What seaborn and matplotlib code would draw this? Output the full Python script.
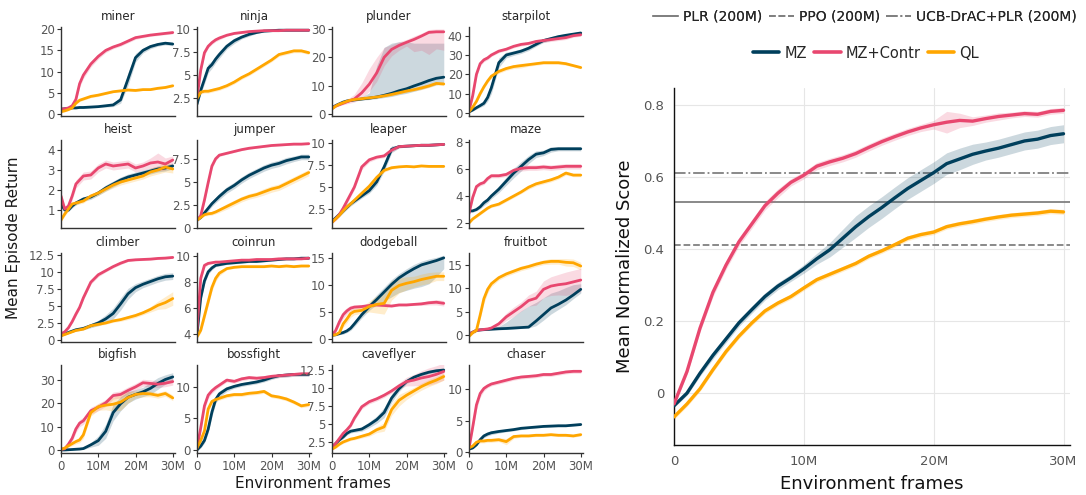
import matplotlib
matplotlib.use("Agg")
import matplotlib.pyplot as plt
import seaborn as sns
from matplotlib.ticker import FuncFormatter, FixedLocator
from matplotlib.lines import Line2D

# ---------------- data ----------------
FRAMES_M = [0, 1, 2, 3, 4, 5, 6, 8, 10, 12, 14, 16, 18, 20, 22, 24, 26, 28, 30]
GAMES = ["miner", "ninja", "plunder", "starpilot",
         "heist", "jumper", "leaper", "maze",
         "climber", "coinrun", "dodgeball", "fruitbot",
         "bigfish", "bossfight", "caveflyer", "chaser"]
METHODS = ["MZ", "MZ+Contr", "QL"]
COLORS = ["#003f5c", "#e8476f", "#ffa600"]

miner_mz = [1.2, 1.3, 1.4, 1.5, 1.5, 1.6, 1.6, 1.7, 1.8, 2.0, 2.2, 3.4, 8.3, 13.3, 15.0, 15.9, 16.4, 16.7, 16.5]
miner_contr = [1.2, 1.3, 1.5, 2.0, 3.5, 7.2, 9.2, 11.8, 13.6, 15.0, 15.8, 16.4, 17.2, 18.0, 18.3, 18.6, 18.8, 19.0, 19.2]
miner_ql = [0.6, 0.8, 1.1, 1.5, 2.6, 3.3, 3.6, 4.2, 4.5, 4.9, 5.3, 5.5, 5.7, 5.6, 5.8, 5.8, 6.1, 6.3, 6.7]
miner_mz_sd = [0.2, 0.2, 0.2, 0.2, 0.2, 0.2, 0.2, 0.2, 0.2, 0.3, 0.4, 0.8, 1.5, 1.0, 0.6, 0.5, 0.4, 0.4, 0.4]
miner_contr_sd = [0.2, 0.2, 0.3, 0.4, 0.6, 0.8, 0.8, 0.7, 0.6, 0.5, 0.4, 0.4, 0.4, 0.4, 0.3, 0.3, 0.3, 0.3, 0.3]
miner_ql_sd = [0.1, 0.1, 0.2, 0.2, 0.3, 0.3, 0.3, 0.3, 0.3, 0.2, 0.2, 0.2, 0.2, 0.2, 0.2, 0.2, 0.2, 0.2, 0.2]

ninja_mz = [1.8, 3.3, 4.5, 5.7, 6.1, 6.7, 7.2, 8.1, 8.7, 9.1, 9.4, 9.6, 9.75, 9.8, 9.85, 9.85, 9.85, 9.85, 9.85]
ninja_contr = [2.5, 5.5, 7.4, 8.1, 8.5, 8.8, 9.0, 9.3, 9.5, 9.6, 9.7, 9.75, 9.8, 9.8, 9.8, 9.85, 9.85, 9.85, 9.85]
ninja_ql = [2.4, 3.1, 3.2, 3.2, 3.3, 3.4, 3.5, 3.8, 4.2, 4.7, 5.1, 5.6, 6.1, 6.6, 7.2, 7.4, 7.6, 7.6, 7.4]
ninja_mz_sd = [0.3, 0.4, 0.5, 0.5, 0.4, 0.4, 0.4, 0.3, 0.3, 0.2, 0.2, 0.1, 0.1, 0.1, 0.1, 0.1, 0.1, 0.1, 0.1]
ninja_contr_sd = [0.3, 0.4, 0.3, 0.2, 0.2, 0.2, 0.2, 0.1, 0.1, 0.1, 0.1, 0.1, 0.1, 0.1, 0.1, 0.1, 0.1, 0.1, 0.1]
ninja_ql_sd = [0.2, 0.2, 0.2, 0.2, 0.2, 0.2, 0.2, 0.2, 0.2, 0.2, 0.2, 0.2, 0.2, 0.2, 0.2, 0.2, 0.2, 0.2, 0.2]

plunder_mz = [2.2, 3.0, 3.6, 4.2, 4.6, 4.8, 5.0, 5.3, 5.6, 6.0, 6.6, 7.3, 8.2, 8.9, 9.9, 10.8, 11.8, 12.6, 13.0]
plunder_contr = [2.0, 2.8, 3.3, 3.8, 4.3, 4.8, 5.3, 7.5, 10.5, 14.5, 20.0, 22.8, 24.2, 25.3, 26.3, 27.5, 28.8, 29.0, 29.0]
plunder_ql = [1.8, 2.8, 3.5, 4.0, 4.5, 4.9, 5.1, 5.4, 5.7, 6.0, 6.4, 6.9, 7.5, 8.1, 8.6, 9.2, 9.9, 10.8, 10.6]
plunder_mz_lo = [1.8, 2.6, 3.2, 3.8, 4.2, 4.4, 4.6, 4.9, 5.1, 5.4, 5.8, 6.2, 6.8, 7.3, 8.0, 8.7, 9.5, 10.3, 10.8]
plunder_mz_hi = [2.6, 3.4, 4.0, 4.6, 5.0, 5.3, 5.5, 6.0, 7.5, 17.0, 23.5, 25.0, 25.5, 25.5, 25.0, 25.0, 25.0, 25.0, 25.0]
plunder_contr_lo = [1.6, 2.4, 2.9, 3.3, 3.6, 3.9, 4.2, 5.5, 8.0, 11.5, 17.0, 20.5, 22.5, 24.0, 22.0, 22.5, 21.0, 23.0, 22.5]
plunder_contr_hi = [2.4, 3.2, 3.8, 4.4, 5.2, 6.0, 7.0, 11.0, 16.0, 20.0, 23.5, 24.5, 25.5, 26.3, 27.5, 28.5, 29.8, 30.0, 30.0]
plunder_ql_sd = [0.3, 0.3, 0.4, 0.4, 0.4, 0.4, 0.4, 0.4, 0.4, 0.4, 0.4, 0.5, 0.5, 0.5, 0.5, 0.6, 0.6, 0.6, 0.6]

starpilot_mz = [0.5, 1.5, 2.7, 3.8, 5.0, 8.0, 13.0, 26.0, 30.0, 31.0, 32.0, 33.5, 35.5, 37.5, 38.5, 39.5, 40.2, 40.8, 41.4]
starpilot_contr = [1.0, 9.0, 20.0, 25.5, 27.5, 28.5, 30.0, 32.0, 33.0, 34.5, 35.5, 36.0, 37.0, 37.5, 38.0, 38.5, 39.0, 40.0, 40.5]
starpilot_ql = [0.5, 3.0, 6.0, 10.0, 13.5, 16.5, 19.0, 21.5, 23.0, 24.0, 24.5, 25.0, 25.5, 26.0, 26.0, 26.0, 25.5, 24.5, 23.5]
starpilot_mz_sd = [0.3, 0.5, 0.7, 0.9, 1.2, 2.0, 3.0, 2.5, 1.5, 1.2, 1.2, 1.2, 1.0, 1.0, 1.0, 1.0, 0.8, 0.8, 0.8]
starpilot_contr_sd = [0.3, 1.5, 1.5, 1.2, 1.0, 1.0, 0.8, 0.8, 0.8, 0.8, 0.8, 0.8, 1.0, 1.0, 1.0, 1.0, 1.0, 0.8, 0.8]
starpilot_ql_sd = [0.3, 0.5, 0.8, 1.0, 1.0, 1.0, 1.0, 1.0, 1.0, 1.0, 1.2, 0.8, 0.8, 0.8, 0.8, 0.8, 0.8, 0.6, 0.6]

heist_mz = [1.3, 1.0, 1.0, 1.2, 1.35, 1.45, 1.55, 1.65, 1.85, 2.1, 2.3, 2.5, 2.65, 2.75, 2.85, 2.95, 3.05, 3.1, 3.2]
heist_contr = [1.7, 1.05, 1.2, 1.7, 2.3, 2.5, 2.7, 2.75, 3.1, 3.3, 3.2, 3.25, 3.3, 3.1, 3.2, 3.35, 3.4, 3.3, 3.5]
heist_ql = [0.5, 0.8, 1.05, 1.3, 1.35, 1.4, 1.45, 1.7, 1.85, 2.05, 2.25, 2.4, 2.5, 2.6, 2.7, 2.9, 3.0, 3.15, 3.05]
heist_mz_sd = [0.1, 0.08, 0.08, 0.1, 0.1, 0.1, 0.1, 0.12, 0.12, 0.15, 0.15, 0.15, 0.15, 0.15, 0.15, 0.15, 0.15, 0.15, 0.15]
heist_contr_sd = [0.15, 0.1, 0.15, 0.2, 0.2, 0.2, 0.2, 0.2, 0.2, 0.2, 0.2, 0.2, 0.2, 0.2, 0.2, 0.25, 0.45, 0.3, 0.2]
heist_ql_sd = [0.1, 0.1, 0.1, 0.1, 0.1, 0.1, 0.1, 0.1, 0.12, 0.12, 0.15, 0.15, 0.15, 0.15, 0.15, 0.2, 0.2, 0.25, 0.2]

jumper_mz = [0.8, 1.1, 1.6, 2.1, 2.6, 3.0, 3.4, 4.1, 4.6, 5.2, 5.7, 6.1, 6.5, 6.8, 7.0, 7.3, 7.5, 7.7, 7.7]
jumper_contr = [0.8, 1.3, 3.0, 4.9, 6.7, 7.5, 7.9, 8.1, 8.3, 8.5, 8.65, 8.75, 8.85, 8.95, 9.0, 9.05, 9.1, 9.1, 9.15]
jumper_ql = [0.8, 1.1, 1.4, 1.5, 1.55, 1.7, 1.9, 2.3, 2.7, 3.1, 3.4, 3.6, 3.9, 4.2, 4.4, 4.8, 5.2, 5.6, 6.0]
jumper_mz_sd = [0.1, 0.15, 0.2, 0.3, 0.3, 0.3, 0.35, 0.35, 0.35, 0.35, 0.35, 0.35, 0.35, 0.35, 0.35, 0.35, 0.3, 0.3, 0.3]
jumper_contr_sd = [0.1, 0.2, 0.3, 0.3, 0.3, 0.2, 0.15, 0.1, 0.1, 0.1, 0.1, 0.1, 0.1, 0.1, 0.1, 0.1, 0.1, 0.1, 0.1]
jumper_ql_sd = [0.1, 0.1, 0.15, 0.2, 0.2, 0.2, 0.25, 0.3, 0.3, 0.3, 0.3, 0.3, 0.35, 0.35, 0.35, 0.35, 0.35, 0.35, 0.35]

leaper_mz = [1.1, 1.5, 1.9, 2.3, 2.7, 3.1, 3.4, 4.0, 4.6, 5.6, 7.3, 9.3, 9.6, 9.65, 9.7, 9.75, 9.75, 9.8, 9.85]
leaper_contr = [1.0, 1.4, 1.9, 2.6, 3.4, 4.2, 5.0, 7.3, 8.1, 8.4, 8.55, 9.2, 9.6, 9.65, 9.7, 9.75, 9.75, 9.8, 9.85]
leaper_ql = [1.0, 1.4, 1.8, 2.3, 2.75, 3.1, 3.5, 4.3, 5.1, 6.1, 6.9, 7.2, 7.3, 7.35, 7.3, 7.4, 7.35, 7.35, 7.35]
leaper_mz_sd = [0.15, 0.2, 0.25, 0.25, 0.25, 0.25, 0.25, 0.25, 0.3, 0.4, 0.5, 0.4, 0.15, 0.1, 0.1, 0.1, 0.1, 0.1, 0.1]
leaper_contr_sd = [0.15, 0.2, 0.25, 0.3, 0.3, 0.3, 0.3, 0.3, 0.25, 0.2, 0.2, 0.2, 0.15, 0.1, 0.1, 0.1, 0.1, 0.1, 0.1]
leaper_ql_sd = [0.1, 0.15, 0.15, 0.2, 0.2, 0.2, 0.2, 0.25, 0.25, 0.25, 0.2, 0.15, 0.1, 0.1, 0.1, 0.1, 0.1, 0.1, 0.1]

maze_mz = [2.9, 2.9, 3.0, 3.2, 3.5, 3.7, 4.0, 4.5, 5.1, 5.7, 6.2, 6.7, 7.1, 7.2, 7.45, 7.5, 7.5, 7.5, 7.5]
maze_contr = [2.7, 3.9, 4.7, 4.9, 5.0, 5.3, 5.5, 5.5, 5.6, 5.9, 6.05, 6.1, 6.1, 6.15, 6.1, 6.15, 6.2, 6.2, 6.2]
maze_ql = [2.0, 2.3, 2.5, 2.7, 2.9, 3.1, 3.25, 3.4, 3.7, 4.0, 4.3, 4.65, 4.9, 5.05, 5.2, 5.4, 5.7, 5.55, 5.55]
maze_mz_sd = [0.1, 0.1, 0.1, 0.15, 0.2, 0.2, 0.2, 0.25, 0.3, 0.35, 0.35, 0.3, 0.25, 0.2, 0.2, 0.15, 0.15, 0.15, 0.15]
maze_contr_sd = [0.1, 0.15, 0.15, 0.15, 0.15, 0.15, 0.15, 0.15, 0.15, 0.2, 0.2, 0.2, 0.2, 0.2, 0.2, 0.2, 0.2, 0.2, 0.2]
maze_ql_sd = [0.05, 0.08, 0.1, 0.1, 0.1, 0.1, 0.1, 0.12, 0.12, 0.12, 0.12, 0.15, 0.15, 0.15, 0.15, 0.15, 0.15, 0.12, 0.12]

climber_mz = [0.7, 0.9, 1.1, 1.3, 1.5, 1.6, 1.7, 2.1, 2.5, 3.1, 3.9, 5.3, 6.8, 7.7, 8.2, 8.6, 9.0, 9.3, 9.4]
climber_contr = [0.9, 1.2, 1.8, 2.7, 3.8, 4.8, 6.2, 8.5, 9.6, 10.2, 10.8, 11.3, 11.7, 11.8, 11.85, 11.9, 12.0, 12.05, 12.15]
climber_ql = [0.6, 0.8, 1.0, 1.2, 1.4, 1.5, 1.6, 2.1, 2.3, 2.5, 2.8, 3.0, 3.3, 3.6, 4.0, 4.5, 5.1, 5.5, 6.1]
climber_mz_sd = [0.1, 0.1, 0.15, 0.15, 0.2, 0.2, 0.2, 0.3, 0.4, 0.6, 0.8, 0.9, 0.8, 0.6, 0.5, 0.5, 0.5, 0.5, 0.5]
climber_contr_sd = [0.1, 0.1, 0.15, 0.2, 0.3, 0.3, 0.3, 0.3, 0.3, 0.2, 0.2, 0.2, 0.15, 0.15, 0.15, 0.15, 0.15, 0.15, 0.15]
climber_ql_sd = [0.1, 0.1, 0.1, 0.1, 0.1, 0.15, 0.15, 0.2, 0.2, 0.2, 0.2, 0.25, 0.3, 0.3, 0.3, 0.4, 0.6, 0.9, 1.0]

coinrun_mz = [4.0, 6.8, 8.1, 8.8, 9.1, 9.3, 9.35, 9.45, 9.5, 9.55, 9.6, 9.6, 9.65, 9.7, 9.75, 9.8, 9.8, 9.85, 9.85]
coinrun_contr = [4.3, 8.3, 9.3, 9.45, 9.5, 9.55, 9.55, 9.6, 9.65, 9.7, 9.7, 9.75, 9.75, 9.75, 9.8, 9.8, 9.8, 9.8, 9.85]
coinrun_ql = [3.8, 4.3, 5.4, 6.5, 7.6, 8.3, 8.7, 9.05, 9.15, 9.2, 9.2, 9.2, 9.2, 9.25, 9.2, 9.25, 9.2, 9.25, 9.25]
coinrun_mz_sd = [0.2, 0.3, 0.25, 0.2, 0.15, 0.1, 0.1, 0.08, 0.08, 0.08, 0.08, 0.08, 0.08, 0.08, 0.08, 0.08, 0.08, 0.08, 0.08]
coinrun_contr_sd = [0.2, 0.3, 0.15, 0.1, 0.08, 0.08, 0.08, 0.08, 0.08, 0.08, 0.08, 0.08, 0.08, 0.08, 0.08, 0.08, 0.08, 0.08, 0.08]
coinrun_ql_sd = [0.1, 0.2, 0.3, 0.3, 0.3, 0.25, 0.2, 0.1, 0.08, 0.08, 0.08, 0.08, 0.08, 0.08, 0.08, 0.08, 0.08, 0.08, 0.08]

dodgeball_mz = [0.7, 0.8, 1.0, 1.2, 1.5, 2.0, 2.8, 4.5, 6.0, 7.3, 8.7, 10.1, 11.3, 12.2, 13.0, 13.7, 14.1, 14.5, 15.0]
dodgeball_contr = [0.7, 1.6, 3.2, 4.5, 5.2, 5.7, 5.9, 6.0, 6.2, 6.3, 6.2, 6.1, 6.3, 6.3, 6.4, 6.5, 6.7, 6.8, 6.6]
dodgeball_ql = [0.7, 0.8, 1.2, 2.8, 3.7, 4.7, 5.1, 5.3, 6.0, 6.4, 6.6, 9.0, 9.9, 10.3, 10.6, 11.0, 11.3, 11.6, 11.6]
dodgeball_mz_lo = [0.5, 0.6, 0.8, 0.9, 1.2, 1.6, 2.3, 3.9, 5.3, 6.4, 7.0, 7.8, 8.6, 9.0, 9.4, 9.7, 10.2, 11.5, 13.0]
dodgeball_mz_hi = [0.9, 1.0, 1.2, 1.5, 1.8, 2.4, 3.3, 5.1, 6.7, 8.2, 9.6, 11.0, 12.1, 13.0, 13.8, 14.4, 14.8, 15.1, 15.5]
dodgeball_contr_sd = [0.2, 0.3, 0.6, 0.7, 0.6, 0.5, 0.4, 0.3, 0.3, 0.3, 0.2, 0.2, 0.2, 0.2, 0.2, 0.3, 0.4, 0.5, 0.5]
dodgeball_ql_sd = [0.2, 0.2, 0.3, 0.6, 0.7, 0.7, 0.6, 0.6, 1.0, 1.6, 2.0, 1.8, 1.4, 1.2, 1.0, 1.0, 1.0, 0.8, 0.8]

fruitbot_mz = [0.2, 0.6, 1.0, 1.1, 1.15, 1.2, 1.25, 1.35, 1.4, 1.5, 1.6, 1.7, 3.0, 4.4, 5.8, 6.6, 7.5, 8.6, 9.8]
fruitbot_contr = [0.2, 0.6, 1.0, 1.1, 1.2, 1.3, 1.5, 2.4, 3.9, 5.0, 6.1, 7.4, 7.9, 9.8, 10.5, 10.8, 11.0, 11.4, 11.8]
fruitbot_ql = [-0.3, 0.5, 1.0, 4.3, 7.8, 9.8, 11.0, 12.3, 13.1, 13.7, 14.3, 14.7, 15.2, 15.6, 15.8, 15.8, 15.6, 15.5, 14.8]
fruitbot_mz_lo = [-0.1, 0.4, 0.8, 0.9, 0.95, 1.0, 1.05, 1.1, 1.2, 1.3, 1.4, 1.5, 2.0, 3.2, 4.5, 5.5, 6.5, 7.8, 9.0]
fruitbot_mz_hi = [0.5, 0.8, 1.2, 1.3, 1.35, 1.4, 1.5, 1.8, 2.8, 4.0, 5.2, 6.2, 7.0, 8.0, 9.0, 9.5, 10.2, 10.8, 11.0]
fruitbot_contr_sd = [0.2, 0.2, 0.2, 0.2, 0.2, 0.3, 0.4, 0.6, 0.8, 1.0, 1.0, 1.2, 1.5, 1.8, 2.0, 2.2, 2.5, 2.5, 2.5]
fruitbot_ql_sd = [0.3, 0.3, 0.4, 0.8, 1.0, 0.8, 0.6, 0.5, 0.5, 0.5, 0.5, 0.5, 0.5, 0.5, 0.6, 0.6, 0.8, 0.8, 0.8]

bigfish_mz = [0.0, 0.0, 0.1, 0.2, 0.3, 0.4, 0.6, 2.2, 4.0, 8.0, 16.0, 19.8, 22.6, 23.8, 24.9, 26.4, 28.5, 30.2, 31.3]
bigfish_contr = [0.3, 0.5, 2.5, 5.0, 9.0, 11.5, 12.5, 16.8, 18.3, 20.2, 23.3, 23.8, 25.5, 27.0, 28.8, 28.5, 28.2, 28.6, 29.3]
bigfish_ql = [0.3, 0.8, 1.8, 2.7, 3.6, 4.3, 6.5, 16.0, 18.5, 19.2, 19.6, 20.5, 22.5, 23.8, 24.2, 24.0, 23.4, 24.2, 22.3]
bigfish_mz_sd = [0.2, 0.2, 0.2, 0.2, 0.2, 0.3, 0.4, 1.0, 2.0, 3.0, 3.5, 3.0, 2.5, 2.0, 2.0, 2.5, 2.5, 2.0, 1.8]
bigfish_contr_sd = [0.3, 0.5, 1.0, 1.5, 1.5, 1.5, 1.5, 1.5, 1.5, 1.5, 1.5, 1.5, 1.5, 1.5, 1.5, 1.5, 1.5, 1.5, 1.5]
bigfish_ql_sd = [0.3, 0.4, 0.6, 0.8, 1.0, 1.2, 1.5, 1.5, 1.5, 2.0, 3.0, 3.5, 2.5, 1.5, 1.5, 1.2, 1.2, 1.2, 1.2]

bossfight_mz = [0.0, 0.6, 1.5, 3.3, 6.0, 8.0, 8.9, 9.7, 10.1, 10.4, 10.6, 10.8, 11.1, 11.5, 11.8, 11.9, 12.0, 12.0, 12.0]
bossfight_contr = [0.3, 3.5, 7.0, 8.7, 9.4, 9.9, 10.3, 11.1, 10.9, 11.3, 11.5, 11.4, 11.5, 11.7, 11.8, 11.9, 12.0, 12.1, 12.1]
bossfight_ql = [0.3, 1.5, 3.0, 6.5, 7.7, 8.0, 8.2, 8.6, 8.8, 8.8, 9.0, 9.1, 9.3, 8.6, 8.4, 8.1, 7.6, 7.0, 7.2]
bossfight_mz_sd = [0.2, 0.3, 0.4, 0.6, 0.7, 0.6, 0.5, 0.4, 0.3, 0.3, 0.3, 0.3, 0.3, 0.3, 0.3, 0.3, 0.3, 0.3, 0.3]
bossfight_contr_sd = [0.2, 0.5, 0.6, 0.5, 0.4, 0.4, 0.3, 0.3, 0.3, 0.3, 0.3, 0.3, 0.3, 0.3, 0.3, 0.3, 0.3, 0.3, 0.3]
bossfight_ql_sd = [0.2, 0.3, 0.5, 0.5, 0.4, 0.3, 0.3, 0.3, 0.3, 0.3, 0.3, 0.3, 0.3, 0.3, 0.3, 0.3, 0.3, 0.3, 0.3]

caveflyer_mz = [1.8, 2.3, 2.8, 3.2, 3.7, 4.0, 4.1, 4.3, 4.9, 5.6, 6.6, 8.6, 9.9, 10.9, 11.5, 11.9, 12.2, 12.4, 12.5]
caveflyer_contr = [1.8, 2.3, 3.0, 3.7, 4.2, 4.8, 5.8, 7.4, 8.1, 8.5, 9.0, 9.6, 10.3, 10.9, 11.1, 11.4, 11.6, 11.9, 12.3]
caveflyer_ql = [1.5, 1.8, 2.2, 2.5, 2.7, 2.9, 3.0, 3.3, 3.6, 4.2, 4.6, 7.0, 8.3, 9.0, 9.6, 10.2, 10.7, 11.1, 11.6]
caveflyer_mz_sd = [0.15, 0.2, 0.2, 0.25, 0.25, 0.25, 0.25, 0.3, 0.4, 0.5, 0.7, 0.6, 0.4, 0.3, 0.25, 0.2, 0.2, 0.2, 0.2]
caveflyer_contr_sd = [0.15, 0.2, 0.25, 0.3, 0.3, 0.3, 0.3, 0.3, 0.3, 0.3, 0.3, 0.3, 0.4, 0.6, 0.8, 1.0, 1.2, 1.2, 1.2]
caveflyer_ql_sd = [0.1, 0.15, 0.2, 0.2, 0.2, 0.2, 0.2, 0.25, 0.3, 0.4, 0.6, 0.8, 0.8, 0.6, 0.5, 0.5, 0.5, 0.5, 0.5]

chaser_mz = [0.5, 0.7, 1.2, 2.0, 2.6, 2.9, 3.1, 3.3, 3.45, 3.6, 3.8, 3.9, 4.0, 4.1, 4.15, 4.2, 4.2, 4.3, 4.4]
chaser_contr = [0.6, 4.0, 7.5, 9.3, 10.1, 10.5, 10.8, 11.1, 11.4, 11.7, 11.9, 12.0, 12.1, 12.3, 12.3, 12.5, 12.7, 12.8, 12.8]
chaser_ql = [0.7, 1.0, 1.6, 1.8, 1.8, 1.9, 1.9, 2.0, 1.7, 2.5, 2.6, 2.6, 2.7, 2.7, 2.8, 2.7, 2.7, 2.6, 2.8]
chaser_mz_sd = [0.1, 0.1, 0.15, 0.2, 0.3, 0.3, 0.3, 0.25, 0.2, 0.2, 0.2, 0.15, 0.15, 0.15, 0.15, 0.15, 0.15, 0.15, 0.15]
chaser_contr_sd = [0.1, 0.5, 0.8, 0.6, 0.4, 0.3, 0.3, 0.3, 0.3, 0.3, 0.3, 0.3, 0.3, 0.3, 0.3, 0.3, 0.3, 0.3, 0.3]
chaser_ql_sd = [0.1, 0.2, 0.3, 0.3, 0.3, 0.3, 0.3, 0.3, 0.5, 0.3, 0.2, 0.2, 0.2, 0.2, 0.2, 0.2, 0.2, 0.2, 0.2]

YLIMS = [(-0.4, 20.5), (0.5, 10.2), (-0.7, 30.7), (-1.6, 44.5),
         (0.1, 4.5), (-0.05, 9.55), (0.35, 10.35), (1.63, 8.15),
         (-0.3, 12.8), (3.4, 10.25), (-0.55, 15.9), (-1.5, 17.6),
         (-1.3, 36.4), (-0.5, 13.5), (0.97, 13.2), (-0.1, 13.8)]
YTICKS = [[0, 5, 10, 15, 20], [2.5, 5, 7.5, 10], [0, 10, 20, 30], [0, 10, 20, 30, 40],
          [1, 2, 3, 4], [0, 2.5, 5, 7.5], [2.5, 5, 7.5, 10], [2, 4, 6, 8],
          [0, 2.5, 5, 7.5, 10, 12.5], [4, 6, 8, 10], [0, 5, 10, 15], [0, 5, 10, 15],
          [0, 10, 20, 30], [0, 5, 10], [2.5, 5, 7.5, 10, 12.5], [0, 5, 10]]

# aggregate (normalized score) panel
FRAMES_BIG = list(range(31))
norm_mz = [-0.035, 0.0, 0.055, 0.105, 0.15, 0.195, 0.232, 0.268, 0.297, 0.32, 0.345,
           0.373, 0.398, 0.43, 0.462, 0.49, 0.515, 0.542, 0.568, 0.59, 0.612,
           0.637, 0.65, 0.663, 0.672, 0.68, 0.69, 0.7, 0.705, 0.715, 0.72]
norm_contr = [-0.03, 0.06, 0.18, 0.28, 0.355, 0.42, 0.47, 0.52, 0.555, 0.585, 0.605,
              0.63, 0.642, 0.652, 0.665, 0.682, 0.698, 0.712, 0.725, 0.736, 0.745,
              0.752, 0.757, 0.755, 0.762, 0.768, 0.772, 0.776, 0.774, 0.782, 0.785]
norm_ql = [-0.066, -0.03, 0.012, 0.065, 0.115, 0.158, 0.195, 0.228, 0.25, 0.268, 0.292,
           0.315, 0.33, 0.345, 0.36, 0.38, 0.395, 0.412, 0.43, 0.44, 0.447,
           0.462, 0.47, 0.476, 0.483, 0.489, 0.494, 0.497, 0.5, 0.505, 0.503]
norm_mz_sd = [0.005, 0.006, 0.008, 0.01, 0.01, 0.01, 0.01, 0.01, 0.01, 0.01, 0.012,
              0.015, 0.02, 0.025, 0.03, 0.03, 0.03, 0.03, 0.03, 0.03, 0.03,
              0.03, 0.03, 0.028, 0.025, 0.025, 0.025, 0.025, 0.025, 0.025, 0.025]
norm_contr_sd = [0.005, 0.008, 0.01, 0.012, 0.012, 0.012, 0.012, 0.012, 0.012, 0.01, 0.01,
                 0.01, 0.01, 0.01, 0.01, 0.01, 0.01, 0.01, 0.01, 0.01, 0.012,
                 0.03, 0.02, 0.012, 0.01, 0.01, 0.008, 0.008, 0.008, 0.008, 0.008]
norm_ql_sd = [0.007, 0.007, 0.007, 0.007, 0.007, 0.007, 0.007, 0.007, 0.007, 0.007, 0.007,
              0.007, 0.007, 0.007, 0.007, 0.007, 0.007, 0.007, 0.007, 0.007, 0.007,
              0.007, 0.007, 0.007, 0.007, 0.007, 0.007, 0.007, 0.007, 0.007, 0.007]

BASELINE_NAMES = ["PLR (200M)", "PPO (200M)", "UCB-DrAC+PLR (200M)"]
BASELINE_VALUES = [0.53, 0.41, 0.61]
BASELINE_STYLES = ["-", "--", "-."]

# ---------------- build ----------------
G = globals()

def band(game, key, mean):
    if f"{game}_{key}_lo" in G:
        return G[f"{game}_{key}_lo"], G[f"{game}_{key}_hi"]
    sd = G[f"{game}_{key}_sd"]
    return [m - s for m, s in zip(mean, sd)], [m + s for m, s in zip(mean, sd)]

sns.set_theme(style="ticks")
plt.rcParams['font.family'] = ['DejaVu Sans']

W, H = 1086, 495
fig = plt.figure(figsize=(W / 100, H / 100), dpi=100)

def px_axes(l, t, r, b):
    return fig.add_axes([l / W, 1 - b / H, (r - l) / W, (b - t) / H])

def mfmt(v, _):
    return "0" if v == 0 else f"{int(round(v))}M"

def gfmt(v, _):
    return f"{v:g}"

COL_L = [61, 197, 332, 469]
ROW_T = [27, 140, 253, 365]
ROW_B = [116, 228, 342, 453]
TICK_GREY = "#555555"

for i, game in enumerate(GAMES):
    r, c = divmod(i, 4)
    ax = px_axes(COL_L[c], ROW_T[r], COL_L[c] + 114, ROW_B[r])
    for key, col in zip(["mz", "contr", "ql"], COLORS):
        mean = G[f"{game}_{key}"]
        lo, hi = band(game, key, mean)
        ax.fill_between(FRAMES_M, lo, hi, color=col, alpha=0.2, lw=0)
        sns.lineplot(x=FRAMES_M, y=mean, ax=ax, color=col, lw=2.0, errorbar=None, legend=False)
    ax.set_xlim(0, 30.6)
    ax.set_ylim(*YLIMS[i])
    ax.yaxis.set_major_locator(FixedLocator(YTICKS[i]))
    ax.yaxis.set_major_formatter(FuncFormatter(gfmt))
    ax.xaxis.set_major_locator(FixedLocator([0, 10, 20, 30]))
    ax.xaxis.set_major_formatter(FuncFormatter(mfmt))
    ax.set_title(game, fontsize=8.5, color="#262626", pad=5)
    ax.tick_params(axis="y", labelsize=8.5, labelcolor=TICK_GREY, length=3, width=0.8, pad=1.5, color="#333333")
    if r == 3:
        ax.tick_params(axis="x", labelsize=8.5, labelcolor=TICK_GREY, length=3, width=0.8, pad=2, color="#333333")
    else:
        ax.tick_params(axis="x", length=0, labelbottom=False)
    for s in ["left", "bottom"]:
        ax.spines[s].set_color("#333333")
        ax.spines[s].set_linewidth(1.0)
    sns.despine(ax=ax)
    ax.set_xlabel("")
    ax.set_ylabel("")

fig.text(14 / W, 1 - 238 / H, "Mean Episode Return", rotation=90, ha="center", va="center",
         fontsize=11, color="#1a1a1a")
fig.text(313 / W, 1 - 484 / H, "Environment frames", ha="center", va="center",
         fontsize=11, color="#1a1a1a")

# big panel
axb = px_axes(674, 88, 1070, 445)
axb.grid(True, color="#e6e6e6", lw=0.8)
axb.set_axisbelow(True)
for v, ls in zip(BASELINE_VALUES, BASELINE_STYLES):
    axb.axhline(v, color="#808080", ls=ls, lw=1.3, zorder=1)
for key, col in zip(["mz", "contr", "ql"], COLORS):
    mean = G[f"norm_{key}"]
    sd = G[f"norm_{key}_sd"]
    axb.fill_between(FRAMES_BIG, [m - s for m, s in zip(mean, sd)],
                     [m + s for m, s in zip(mean, sd)], color=col, alpha=0.2, lw=0, zorder=2)
    sns.lineplot(x=FRAMES_BIG, y=mean, ax=axb, color=col, lw=2.4, errorbar=None, legend=False, zorder=3)
axb.set_xlim(0, 30.5)
axb.set_ylim(-0.144, 0.847)
axb.xaxis.set_major_locator(FixedLocator([0, 10, 20, 30]))
axb.xaxis.set_major_formatter(FuncFormatter(mfmt))
axb.yaxis.set_major_locator(FixedLocator([0, 0.2, 0.4, 0.6, 0.8]))
axb.yaxis.set_major_formatter(FuncFormatter(gfmt))
axb.tick_params(labelsize=9.5, labelcolor=TICK_GREY, length=0, pad=7)
for s in ["left", "bottom"]:
    axb.spines[s].set_color("#111111")
    axb.spines[s].set_linewidth(1.0)
sns.despine(ax=axb)
axb.set_xlabel("Environment frames", fontsize=13, labelpad=5, color="#111111")
axb.set_ylabel("Mean Normalized Score", fontsize=13, labelpad=7, color="#111111")

h1 = [Line2D([], [], color="#808080", ls=ls, lw=1.3) for ls in BASELINE_STYLES]
leg1 = fig.legend(h1, BASELINE_NAMES, loc="center", bbox_to_anchor=(865 / W, 1 - 17 / H),
                  ncol=3, frameon=False, fontsize=10, handlelength=1.8,
                  handletextpad=0.35, columnspacing=0.45, borderpad=0.2)
h2 = [Line2D([], [], color=c, lw=2.6) for c in COLORS]
leg2 = fig.legend(h2, METHODS, loc="center", bbox_to_anchor=(866 / W, 1 - 53 / H),
                  ncol=3, frameon=False, fontsize=10.5, handlelength=1.8,
                  handletextpad=0.35, columnspacing=0.5)
fig.add_artist(leg1)

fig.savefig("out.png", dpi=100)
